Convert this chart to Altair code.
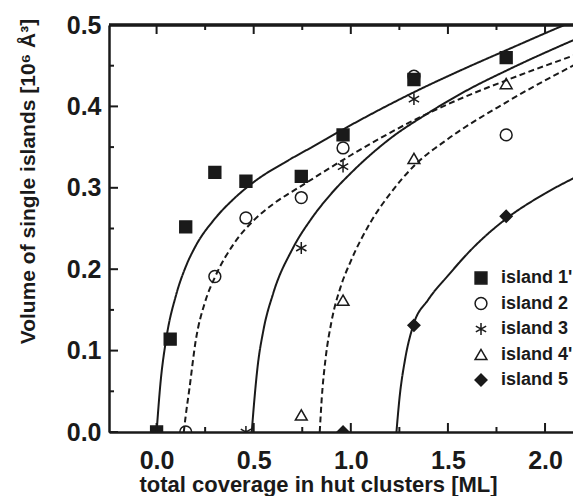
import altair as alt
import pandas as pd

FONT = "Liberation Sans"
INK = "#1a1a1a"

islands = ["island 1'", "island 2", "island 3", "island 4'", "island 5"]
shapes = ["square", "circle",
          "M0,-1L0,1M-0.87,-0.5L0.87,0.5M-0.87,0.5L0.87,-0.5",
          "triangle-up", "diamond"]
fills = [INK, "transparent", "transparent", "transparent", INK]
sizes = [140, 140, 210, 170, 130]
widths = [1.5, 1.5, 2.0, 1.5, 1.5]
styles = ["solid", "dashed", "solid", "dashed", "solid"]

# measured data points
x1 = [0.0, 0.07, 0.15, 0.30, 0.46, 0.745, 0.96, 1.325, 1.80]
y1 = [0.0, 0.114, 0.252, 0.319, 0.308, 0.314, 0.365, 0.433, 0.460]
x2 = [0.15, 0.30, 0.46, 0.745, 0.96, 1.325, 1.80]
y2 = [0.0, 0.191, 0.263, 0.288, 0.349, 0.437, 0.365]
x3 = [0.46, 0.745, 0.96, 1.325]
y3 = [0.0, 0.226, 0.326, 0.409]
x4 = [0.745, 0.96, 1.325, 1.80, 2.205]
y4 = [0.021, 0.162, 0.336, 0.428, 0.40]
x5 = [0.96, 1.325, 1.80, 2.205]
y5 = [0.0, 0.131, 0.265, 0.30]

# fitted curves
cx1 = [0.0, 0.02, 0.05, 0.10, 0.15, 0.20, 0.30, 0.40, 0.50, 0.68, 0.80, 1.0, 1.33, 1.6, 1.81, 2.07, 2.2]
cy1 = [0.0, 0.06, 0.115, 0.168, 0.203, 0.228, 0.262, 0.287, 0.307, 0.334, 0.35, 0.377, 0.418,
       0.448, 0.47, 0.497, 0.51]
cx2 = [0.14, 0.15, 0.17, 0.20, 0.25, 0.30, 0.40, 0.50, 0.60, 0.75, 1.0, 1.3, 1.55, 1.8, 2.2]
cy2 = [0.0, 0.02, 0.055, 0.11, 0.16, 0.19, 0.232, 0.26, 0.28, 0.303, 0.34, 0.38, 0.408, 0.432, 0.467]
cx3 = [0.49, 0.50, 0.52, 0.55, 0.60, 0.70, 0.80, 0.90, 1.0, 1.2, 1.4, 1.6, 1.81, 2.2]
cy3 = [0.0, 0.03, 0.08, 0.125, 0.17, 0.225, 0.263, 0.293, 0.318, 0.36, 0.392, 0.42, 0.445, 0.487]
cx4 = [0.84, 0.85, 0.87, 0.90, 0.95, 1.0, 1.1, 1.2, 1.33, 1.5, 1.8, 2.2]
cy4 = [0.0, 0.04, 0.09, 0.135, 0.18, 0.21, 0.257, 0.292, 0.328, 0.36, 0.405, 0.457]
cx5 = [1.235, 1.25, 1.28, 1.32, 1.40, 1.50, 1.62, 1.80, 2.0, 2.2]
cy5 = [0.0, 0.04, 0.09, 0.13, 0.163, 0.192, 0.224, 0.262, 0.293, 0.318]

x_major = [0.0, 0.5, 1.0, 1.5, 2.0]
x_minor = [0.25, 0.75, 1.25, 1.75]
y_major = [0.0, 0.1, 0.2, 0.3, 0.4, 0.5]
y_minor = [0.05, 0.15, 0.25, 0.35, 0.45]

pts_x = [x1, x2, x3, x4, x5]
pts_y = [y1, y2, y3, y4, y5]
crv_x = [cx1, cx2, cx3, cx4, cx5]
crv_y = [cy1, cy2, cy3, cy4, cy5]

prow, crow = [], []
for i, name in enumerate(islands):
    for a, b in zip(pts_x[i], pts_y[i]):
        prow.append({"island": name, "x": a, "y": b})
    for a, b in zip(crv_x[i], crv_y[i]):
        crow.append({"island": name, "style": styles[i], "x": a, "y": b})
pdf = pd.DataFrame(prow)
cdf = pd.DataFrame(crow)

# whole svg must fit the 565px wide container (581 - 2*8 margin)
W, H = 464, 407
x_scale = alt.Scale(domain=[-0.245, 2.144], nice=False, zero=False)
y_scale = alt.Scale(domain=[0, 0.5], nice=False, zero=False)

x_axis = alt.Axis(title="total coverage in hut clusters [ML]", values=x_major, format=".1f",
                  domain=True, domainWidth=2.5, domainColor=INK, ticks=False, grid=False,
                  labelFontSize=25, labelFontWeight="bold", labelPadding=16, labelColor=INK,
                  labelFont=FONT, titleFont=FONT, titleFontSize=22, titleFontWeight="bold",
                  titleColor=INK, titleX=209, titleY=59, titleAlign="center",
                  titleBaseline="alphabetic", labelFlush=False)
y_axis = alt.Axis(title="Volume of single islands [10⁶ Å³]", values=y_major, format=".1f",
                  domain=True, domainWidth=2.5, domainColor=INK, ticks=False, grid=False,
                  labelFontSize=25, labelFontWeight="bold", labelPadding=8, labelColor=INK,
                  labelFont=FONT, titleFont=FONT, titleFontSize=21, titleFontWeight="bold",
                  titleColor=INK, titleX=-75, titleY=156, titleAlign="center",
                  titleBaseline="alphabetic", labelFlush=False)

X = alt.X("x:Q", scale=x_scale, axis=x_axis)
Y = alt.Y("y:Q", scale=y_scale, axis=y_axis)

leg = alt.Legend(title=None, orient="none", legendX=363, legendY=244, padding=0,
                 labelFont=FONT, labelFontSize=18, labelFontWeight="bold", labelColor=INK,
                 rowPadding=7.5, labelOffset=11)

lines = alt.Chart(cdf).mark_line(strokeWidth=2, color=INK, interpolate="monotone", clip=True).encode(
    x=X, y=Y, detail="island:N",
    strokeDash=alt.StrokeDash("style:N", scale=alt.Scale(domain=["solid", "dashed"],
                                                         range=[[1, 0], [6, 3.5]]), legend=None),
)

points = alt.Chart(pdf).mark_point(opacity=1, clip=True).encode(
    x=X, y=Y,
    shape=alt.Shape("island:N", scale=alt.Scale(domain=islands, range=shapes), legend=leg),
    fill=alt.Fill("island:N", scale=alt.Scale(domain=islands, range=fills), legend=leg),
    stroke=alt.Stroke("island:N", scale=alt.Scale(domain=islands, range=[INK] * 5), legend=leg),
    size=alt.Size("island:N", scale=alt.Scale(domain=islands, range=sizes), legend=leg),
    strokeWidth=alt.StrokeWidth("island:N", scale=alt.Scale(domain=islands, range=widths), legend=leg),
)

xmaj = pd.DataFrame({"x": x_major})
xmin = pd.DataFrame({"x": x_minor})
ymaj = pd.DataFrame({"y": y_major})
ymin = pd.DataFrame({"y": y_minor})

tick = dict(color=INK, strokeWidth=2)
ticks = [
    alt.Chart(xmaj).mark_rule(**tick).encode(x=X, y=alt.value(H), y2=alt.value(H - 9)),
    alt.Chart(xmin).mark_rule(**tick).encode(x=X, y=alt.value(H), y2=alt.value(H - 5)),
    alt.Chart(xmaj).mark_rule(**tick).encode(x=X, y=alt.value(0), y2=alt.value(9)),
    alt.Chart(xmin).mark_rule(**tick).encode(x=X, y=alt.value(0), y2=alt.value(5)),
    alt.Chart(ymaj).mark_rule(**tick).encode(y=Y, x=alt.value(0), x2=alt.value(9)),
    alt.Chart(ymin).mark_rule(**tick).encode(y=Y, x=alt.value(0), x2=alt.value(5)),
]
top = alt.Chart(xmaj).mark_rule(color=INK, strokeWidth=2.5).encode(
    y=alt.value(0), x=alt.value(0), x2=alt.value(W))

chart = alt.layer(lines, points, top, *ticks).properties(
    width=W, height=H,
    autosize=alt.AutoSizeParams(type="none"),
    padding={"left": 101, "top": 17, "right": 0, "bottom": 64},
).configure_view(stroke=None).configure(background="white")

chart.save("out.html", embed_options={"renderer": "svg", "actions": False})
